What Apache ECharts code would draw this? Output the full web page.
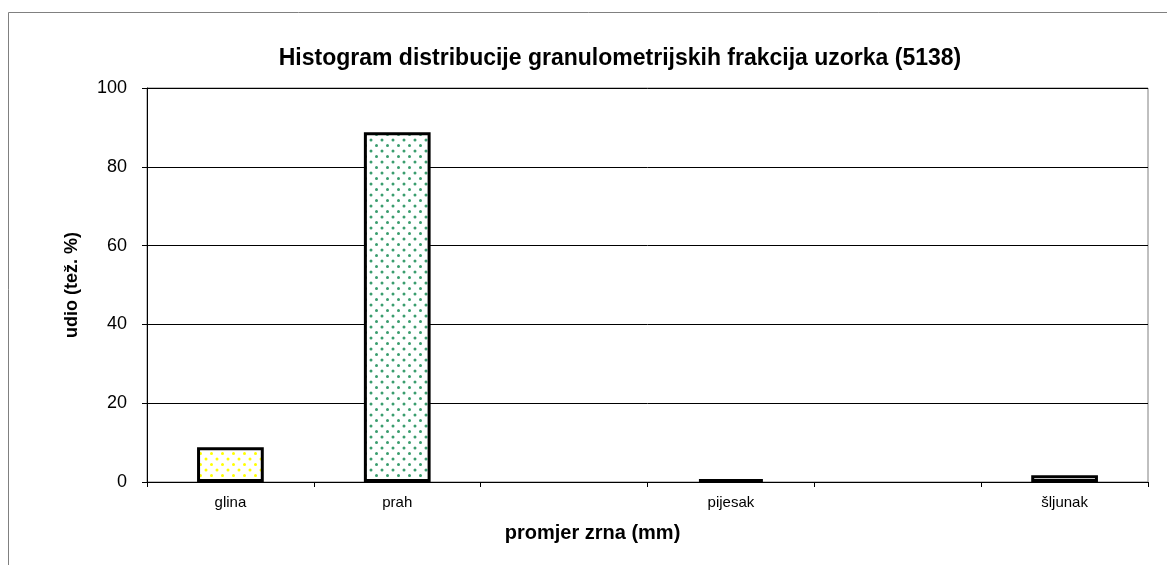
<!DOCTYPE html>
<html><head><meta charset="utf-8">
<script src="https://cdn.jsdelivr.net/npm/echarts@6/dist/echarts.min.js"></script>
<style>html,body{margin:0;padding:0;background:#fff}#c{width:1167px;height:565px}</style>
</head><body><div id="c"></div>
<script>
const categories = ['glina', 'prah', '', 'pijesak', '', 'šljunak'];
const values = [8.8, 88.8, null, 0.7, null, 1.7];
const dotColors = ['#ffff00', '#3a9d6e', null, '#808080', null, '#808080'];
const yTicks = [0, 20, 40, 60, 80, 100];

function pattern(color) {
  const c = document.createElement('canvas');
  c.width = 11; c.height = 11;
  const g = c.getContext('2d');
  g.fillStyle = '#fff'; g.fillRect(0, 0, 11, 11);
  g.fillStyle = color;
  g.beginPath(); g.arc(2.5, 2.5, 1.5, 0, Math.PI * 2); g.fill();
  g.beginPath(); g.arc(8, 8, 1.5, 0, Math.PI * 2); g.fill();
  return { image: c, repeat: 'repeat' };
}

const chart = echarts.init(document.getElementById('c'));
const font = '"Liberation Sans", Arial, sans-serif';
chart.setOption({
  animation: false,
  backgroundColor: '#fff',
  textStyle: { fontFamily: font },
  title: {
    text: 'Histogram distribucije granulometrijskih frakcija uzorka (5138)',
    left: 615, textAlign: 'center', top: 42,
    textStyle: { fontSize: 23, fontWeight: 'bold', color: '#000', fontFamily: font }
  },
  graphic: [{
    type: 'rect', shape: { x: 8.5, y: 12.5, width: 1300, height: 700 },
    style: { fill: 'none', stroke: '#808080', lineWidth: 1 }, silent: true
  }],
  grid: { left: 147, right: 19, top: 88, bottom: 83, show: true, borderColor: '#808080', borderWidth: 1 },
  xAxis: {
    type: 'category', data: categories, boundaryGap: true,
    name: 'promjer zrna (mm)', nameLocation: 'middle', nameGap: 41,
    nameTextStyle: { fontSize: 20, fontWeight: 'bold', color: '#000', padding: [0, 110, 0, 0] },
    axisLine: { lineStyle: { color: '#000', width: 1 } },
    axisTick: { show: true, interval: 0, length: 5, lineStyle: { color: '#000' } },
    axisLabel: { interval: 0, fontSize: 15, color: '#000', margin: 13 },
    splitLine: { show: false }
  },
  yAxis: {
    type: 'value', min: yTicks[0], max: yTicks[yTicks.length - 1], interval: 20,
    name: 'udio (tež. %)', nameLocation: 'middle', nameGap: 66, nameRotate: 90,
    nameTextStyle: { fontSize: 18, fontWeight: 'bold', color: '#000' },
    axisLine: { show: true, lineStyle: { color: '#000', width: 1 } },
    axisTick: { show: true, length: 5, lineStyle: { color: '#000' } },
    axisLabel: { fontSize: 18, color: '#000', margin: 20 },
    splitLine: { show: true, lineStyle: { color: '#000', width: 1 } }
  },
  series: [{
    type: 'bar', barWidth: '40%',
    data: values.map((v, i) => v == null ? null : {
      value: v,
      itemStyle: { color: pattern(dotColors[i]), borderColor: '#000', borderWidth: 3 }
    })
  }]
});
</script></body></html>
